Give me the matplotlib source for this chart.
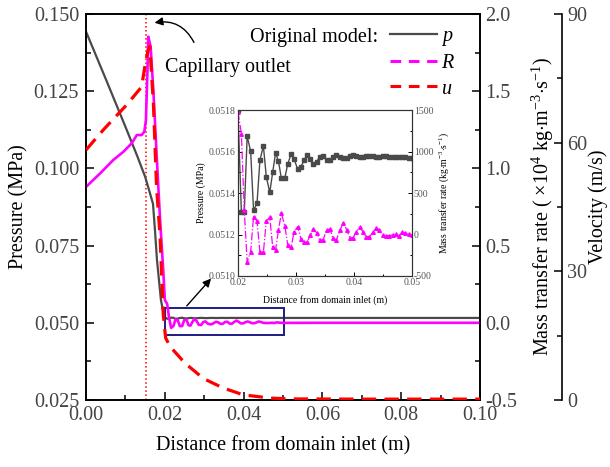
import matplotlib
matplotlib.use("Agg")
import matplotlib.pyplot as plt
from matplotlib.lines import Line2D
from matplotlib.patches import Rectangle
from matplotlib.ticker import MultipleLocator

plt.rcParams['font.family'] = ['Liberation Serif', 'DejaVu Serif']
plt.rcParams['mathtext.fontset'] = 'custom'
plt.rcParams['mathtext.rm'] = 'Liberation Serif'
plt.rcParams['mathtext.it'] = 'Liberation Serif:italic'
plt.rcParams['axes.unicode_minus'] = False

# main curves, x < 0.02 m (inset data is used for 0.02-0.05)
x_p = [0.0, 0.005, 0.010, 0.013, 0.015, 0.016, 0.017, 0.0175, 0.018, 0.0185, 0.019, 0.0195]
p_main = [0.1443, 0.1290, 0.1135, 0.1040, 0.0973, 0.0930, 0.0885, 0.0800, 0.0705, 0.0640, 0.0575, 0.0541]

x_R = [0.0, 0.0036, 0.0069, 0.0095, 0.0116, 0.0129, 0.0141, 0.0148, 0.0152, 0.0156,
       0.0158, 0.0164, 0.0171, 0.0179, 0.0188, 0.0196]
R_main = [0.88, 0.968, 1.054, 1.108, 1.163, 1.216, 1.216, 1.238, 1.313, 1.637,
          1.853, 1.788, 1.50, 1.098, 0.666, 0.342]

x_u = [0.0, 0.0044, 0.0103, 0.0141, 0.0152, 0.0158, 0.0162, 0.0171, 0.0179, 0.0188,
       0.0196, 0.0202, 0.0213, 0.0251, 0.0298, 0.0348, 0.0399, 0.0467, 0.0518, 0.0700, 0.1000]
u_main = [58.3, 63.0, 68.8, 73.0, 79.3, 81.6, 82.4, 69.2, 49.7, 38.1,
          20.0, 14.5, 12.5, 8.6, 5.0, 2.8, 1.2, 0.45, 0.25, 0.2, 0.2]

# tail of p and R beyond the inset window
x_tail = [0.06, 0.08, 0.10]
p_tail = [0.05157, 0.05157, 0.05157]
R_tail = [0.0, 0.0, 0.0]

# inset (0.02-0.05 m)
x_in = [0.0200, 0.0206, 0.0211, 0.0216, 0.0222, 0.0227, 0.0233, 0.0238, 0.0244, 0.0249,
        0.0255, 0.0260, 0.0265, 0.0270, 0.0275, 0.0281, 0.0286, 0.0292, 0.0297, 0.0303,
        0.0309, 0.0314, 0.0319, 0.0325, 0.0330, 0.0336, 0.0341, 0.0347, 0.0353, 0.0359,
        0.0364, 0.0370, 0.0376, 0.0382, 0.0388, 0.0393, 0.0399, 0.0404, 0.0410, 0.0416,
        0.0421, 0.0427, 0.0433, 0.0438, 0.0444, 0.0450, 0.0455, 0.0461, 0.0467, 0.0472,
        0.0478, 0.0484, 0.0489, 0.0495, 0.0500]
p_in = [0.051800, 0.051307, 0.051307, 0.051675, 0.051602, 0.051318, 0.051350, 0.051559, 0.051627, 0.051479,
        0.051403, 0.051500, 0.051594, 0.051554, 0.051471, 0.051474, 0.051540, 0.051591, 0.051564, 0.051516,
        0.051527, 0.051559, 0.051582, 0.051564, 0.051541, 0.051551, 0.051575, 0.051578, 0.051562, 0.051559,
        0.051573, 0.051583, 0.051575, 0.051568, 0.051570, 0.051578, 0.051582, 0.051577, 0.051572, 0.051574,
        0.051579, 0.051580, 0.051577, 0.051575, 0.051576, 0.051578, 0.051577, 0.051575, 0.051574, 0.051575,
        0.051574, 0.051572, 0.051572, 0.051571, 0.051570]
R_in = [1480, 1219, 295, -328, -207, 215, 163, -214, -214, 163,
        207, -147, -187, 54, 255, 106, -126, -147, 34, 94,
        -54, -94, -94, -6, 66, 22, -66, -66, 54, 66,
        -46, -66, 54, 142, 54, -38, -38, 34, 86, 34,
        -26, -26, 26, 82, 54, -6, -14, -14, -6, 2,
        -14, 26, 14, 2, -6]

x_outlet = 0.0152

GRAY = '#4a4a4a'
MAG = '#ff00ff'
RED = '#ff0000'
TICK_C = '#444444'
FS = 14.5

fig = plt.figure(figsize=(6.1, 4.67), dpi=100)
ax = fig.add_axes([0.141, 0.1435, 0.646, 0.8265])
ax2 = ax.twinx()
ax3 = ax.twinx()
ax3.spines['right'].set_position(('axes', 1.208))
for s in ['top', 'left', 'bottom']:
    ax3.spines[s].set_visible(False)

ax.plot(x_p + x_in + x_tail, p_main + p_in + p_tail, color=GRAY, lw=1.6, zorder=3)
ax2.plot(x_R + x_in + x_tail, R_main + [r / 1e4 for r in R_in] + R_tail,
         color=MAG, lw=1.9, zorder=2)
ax3.plot(x_u, u_main, color=RED, lw=2.3, dashes=(4.5, 2.6), zorder=2)
ax.axvline(x_outlet, color=RED, lw=1.1, ls=':', zorder=1)

ax.set_xlim(0, 0.10)
ax.set_ylim(0.025, 0.150)
ax2.set_ylim(-0.5, 2.0)
ax3.set_ylim(0, 90)

ax.xaxis.set_major_locator(MultipleLocator(0.02))
ax.xaxis.set_minor_locator(MultipleLocator(0.01))
ax.yaxis.set_major_locator(MultipleLocator(0.025))
ax.yaxis.set_minor_locator(MultipleLocator(0.0125))
ax2.yaxis.set_major_locator(MultipleLocator(0.5))
ax2.yaxis.set_minor_locator(MultipleLocator(0.25))
ax3.yaxis.set_major_locator(MultipleLocator(30))
ax3.yaxis.set_minor_locator(MultipleLocator(15))
ax.xaxis.set_major_formatter(plt.FormatStrFormatter('%.2f'))
ax.yaxis.set_major_formatter(plt.FormatStrFormatter('%.3f'))
ax2.yaxis.set_major_formatter(plt.FormatStrFormatter('%.1f'))

for a in (ax, ax2, ax3):
    a.tick_params(which='both', direction='in', labelsize=FS, labelcolor=TICK_C, width=1.1)
    a.tick_params(which='major', length=6)
    a.tick_params(which='minor', length=3.5)
    for s in a.spines.values():
        s.set_linewidth(1.2)
ax.tick_params(axis='x', pad=4)
ax.tick_params(axis='y', pad=5)

ax.set_xlabel('Distance from domain inlet (m)', fontsize=FS, labelpad=8)
ax.set_ylabel('Pressure (MPa)', fontsize=FS, labelpad=4)
ax2.set_ylabel(r'Mass transfer rate ( $\times$10$^{4}$ kg$\cdot$m$^{-3}$$\cdot$s$^{-1}$)',
               fontsize=FS, labelpad=9)
ax3.set_ylabel('Velocity (m/s)', fontsize=FS, labelpad=1)

# zoom box and arrow to the inset
ax.add_patch(Rectangle((0.0201, 0.0460), 0.0301, 0.0087, fill=False,
                       edgecolor='#1c1c84', lw=1.4, zorder=5))
ax.annotate('', xy=(0.0322, 0.0650), xytext=(0.0251, 0.0548),
            arrowprops=dict(arrowstyle='-|>', color='black', lw=1.0, mutation_scale=12), zorder=6)

# capillary outlet note
ax.text(0.0200, 0.1328, 'Capillary outlet', fontsize=FS, va='center', ha='left')
ax.annotate('', xy=(0.0167, 0.1470), xytext=(0.0277, 0.1400),
            arrowprops=dict(arrowstyle='-|>', color='black', lw=1.0, mutation_scale=12,
                            connectionstyle='arc3,rad=0.4'))

# legend
ax.text(0.741, 0.940, 'Original model:', transform=ax.transAxes, fontsize=FS,
        ha='right', va='center')
handles = [Line2D([], [], color=GRAY, lw=1.6),
           Line2D([], [], color=MAG, lw=2.2, dashes=(3.5, 2.5)),
           Line2D([], [], color=RED, lw=2.2, dashes=(3.5, 2.5))]
leg = ax.legend(handles, ['$p$', '$R$', '$u$'], loc='upper left', bbox_to_anchor=(0.772, 0.966),
                frameon=False, fontsize=FS, handlelength=2.3, handletextpad=0.2,
                labelspacing=0.3, borderpad=0, borderaxespad=0)

# inset
axi = fig.add_axes([0.390, 0.409, 0.285, 0.355])
axi2 = axi.twinx()
axi.plot(x_in, p_in, color=GRAY, lw=1.0, marker='s', ms=2.6, zorder=3)
axi2.plot(x_in, R_in, color=MAG, lw=0.9, ls='-.', marker='^', ms=2.6, zorder=2)
axi.set_xlim(0.02, 0.05)
axi.set_ylim(0.0510, 0.0518)
axi2.set_ylim(-500, 1500)
axi.xaxis.set_major_locator(MultipleLocator(0.01))
axi.xaxis.set_minor_locator(MultipleLocator(0.005))
axi.yaxis.set_major_locator(MultipleLocator(0.0002))
axi.yaxis.set_minor_locator(MultipleLocator(0.0001))
axi2.yaxis.set_major_locator(MultipleLocator(500))
axi2.yaxis.set_minor_locator(MultipleLocator(250))
axi.xaxis.set_major_formatter(plt.FormatStrFormatter('%.2f'))
axi.yaxis.set_major_formatter(plt.FormatStrFormatter('%.4f'))
for a in (axi, axi2):
    a.tick_params(which='both', direction='in', labelsize=7, labelcolor='#555555',
                  width=0.7, pad=1.5)
    a.tick_params(which='major', length=3)
    a.tick_params(which='minor', length=1.8)
    for s in a.spines.values():
        s.set_linewidth(0.8)
        s.set_color('#333333')
axi.set_xlabel('Distance from domain inlet (m)', fontsize=7, labelpad=6)
axi.set_ylabel('Pressure (MPa)', fontsize=7, labelpad=2)
axi2.set_ylabel(r'Mass transfer rate (kg$\cdot$m$^{-3}$$\cdot$s$^{-1}$)', fontsize=7, labelpad=3)

fig.savefig('out.png', dpi=100)
